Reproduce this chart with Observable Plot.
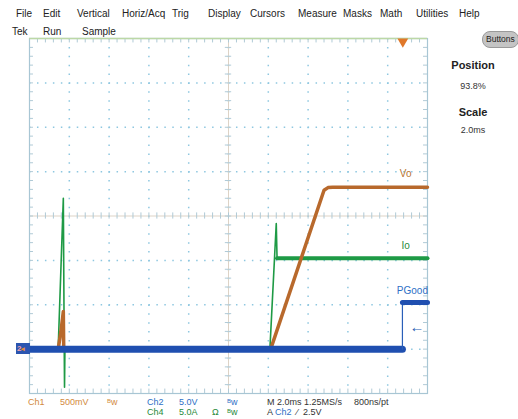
<!DOCTYPE html>
<html>
<head>
<meta charset="utf-8">
<script src="https://cdn.jsdelivr.net/npm/d3@7"></script>
<script src="https://cdn.jsdelivr.net/npm/@observablehq/plot@0.6"></script>
<style>
  body { margin: 0; background: #fff; }
  #wrap { position: relative; width: 518px; height: 419px; overflow: hidden; font-family: "Liberation Sans", Arial, sans-serif; }
  #wrap svg { position: absolute; left: 0; top: 0; }
  .t { position: absolute; white-space: nowrap; line-height: 11px; }
  .m { font-size: 10px; color: #222; }
  .b { font-size: 9px; }
  .or { color: #d28a3e; } .bl { color: #2e6fc6; } .gr { color: #1f8a3a; } .dk { color: #333; }
  .sb { font-size: 6px; display: inline-block; transform: translateY(-2px); }
  .c { text-align: center; width: 60px; }
</style>
</head>
<body>
<div id="wrap"></div>
<script>
// ---- data (x in divisions of 2.0 ms, y in divisions from screen centre) ----
const menuItems = ["File","Edit","Vertical","Horiz/Acq","Trig","Display","Cursors","Measure","Masks","Math","Utilities","Help"];
const menuX = [16,43,77,122,172,208,250,298,343,380,416,459];
const statusItems = ["Tek","Run","Sample"];
const statusX = [12,43,82];

const voTime  = [0, 0.72, 0.79, 0.85, 0.86, 6.06, 7.40, 7.50, 7.62, 10];
const voValue = [-3, -3, -2.6, -2.15, -3, -3, 0.58, 0.64, 0.65, 0.65];

const ioSpikeTime  = [0, 0.72, 0.85, 0.87, 0.88, 0.89, 6.04, 6.20, 6.22];
const ioSpikeValue = [-3, -3, 0.40, -2.6, -3.86, -3, -3, -0.17, -0.95];
const ioFlatTime  = [6.22, 10];
const ioFlatValue = [-0.95, -0.95];

const pgTime  = [0, 9.37, 9.37, 10];
const pgValue = [-3, -3, -1.95, -1.95];

const triggerPos = 9.38;    // 93.8 %
const triggerLevel = -2.5;  // 2.5 V on Ch2 (5 V/div, ground at -3)

const labels = [
  {x: 9.45, y: 0.95, text: "Vo", color: "#b8732e"},
  {x: 9.45, y: -0.67, text: "Io", color: "#1f8a3a"},
  {x: 9.62, y: -1.68, text: "PGood", color: "#2e6fc6"}
];

const rows = (t, v) => t.map((d, i) => ({x: d, y: v[i]}));

// grid helpers
const majorX = d3.range(1, 10);
const majorY = d3.range(-3, 4).filter(d => d !== 0);
const minorX = d3.range(0, 10.001, 0.2);
const minorY = d3.range(-4, 4.001, 0.2);

const dotCol = "#8ec7e0";
const tickCol = "#b0cad6";
const plot = Plot.plot({
  width: 518, height: 419,
  marginLeft: 29, marginRight: 91, marginTop: 38, marginBottom: 26,
  x: {domain: [0, 10], axis: null},
  y: {domain: [-4, 4], axis: null},
  style: {background: "transparent", overflow: "visible"},
  marks: [
    Plot.ruleX(majorX, {stroke: dotCol, strokeWidth: 1.5, strokeDasharray: "1.5,7.38"}),
    Plot.ruleY(majorY, {stroke: dotCol, strokeWidth: 1.5, strokeDasharray: "1.5,6.46"}),
    Plot.ruleX([5], {stroke: "#ddd3c6", strokeWidth: 1}),
    Plot.ruleY([0], {stroke: "#ddd3c6", strokeWidth: 1}),
    Plot.ruleX(minorX, {x: d => d, y1: -0.07, y2: 0.07, stroke: tickCol}),
    Plot.ruleY(minorY, {y: d => d, x1: 4.92, x2: 5.08, stroke: tickCol}),
    Plot.ruleX(minorX, {x: d => d, y1: 3.9, y2: 4, stroke: tickCol}),
    Plot.ruleX(minorX, {x: d => d, y1: -4, y2: -3.9, stroke: tickCol}),
    Plot.ruleY(minorY, {y: d => d, x1: 0, x2: 0.1, stroke: tickCol}),
    Plot.ruleY(minorY, {y: d => d, x1: 9.9, x2: 10, stroke: tickCol}),
    Plot.frame({stroke: "#a8c6d4", strokeWidth: 1.2}),
    Plot.ruleY([4], {stroke: "#bcd8a6", strokeWidth: 1.5}),
    // traces
    Plot.line(rows(ioSpikeTime, ioSpikeValue), {x: "x", y: "y", stroke: "#1e9a45", strokeWidth: 1.6}),
    Plot.line(rows(ioFlatTime, ioFlatValue), {x: "x", y: "y", stroke: "#1e9a45", strokeWidth: 4}),
    Plot.line(rows(voTime, voValue), {x: "x", y: "y", stroke: "#b8692c", strokeWidth: 3.5, strokeLinejoin: "round"}),
    Plot.line(rows(pgTime, pgValue).slice(0, 2), {x: "x", y: "y", stroke: "#1f4fb0", strokeWidth: 7}),
    Plot.line(rows(pgTime, pgValue).slice(1), {x: "x", y: "y", stroke: "#2a5fb8", strokeWidth: 1.2}),
    Plot.line(rows(pgTime, pgValue).slice(2), {x: "x", y: "y", stroke: "#1f4fb0", strokeWidth: 5}),
    // markers
    Plot.dot([triggerPos], {x: d => d, y: 4, symbol: "triangle", rotate: 180, r: 4, fill: "#e0782a", dy: 3}),
    Plot.text([triggerLevel], {x: 10, y: d => d, text: () => "←", textAnchor: "end", dx: -3, fill: "#2e5fb6", fontSize: 15, fontWeight: "bold"}),
    Plot.text(labels, {x: "x", y: "y", text: "text", fill: "color", fontSize: 10, fontFamily: "Liberation Sans, Arial, sans-serif"})
  ]
});
const wrap = document.getElementById("wrap");
wrap.appendChild(plot);

function add(html, cls, left, top, extra) {
  const d = document.createElement("div");
  d.className = "t " + cls;
  d.style.left = left + "px";
  d.style.top = top + "px";
  if (extra) Object.assign(d.style, extra);
  d.innerHTML = html;
  wrap.appendChild(d);
  return d;
}
menuItems.forEach((m, i) => add(m, "m", menuX[i], 8));
statusItems.forEach((m, i) => add(m, "m", statusX[i], 26));

// ground marker
add("<span style='color:#f2a0b0'>2</span><span style='color:#e08a3a;font-size:7px'>◂</span>", "", 16, 343,
  {background: "#2a55b0", width: "13px", height: "11px", fontSize: "8px", lineHeight: "11px", paddingLeft: "1px", fontWeight: "bold"});

// right panel
add("Buttons", "", 482, 31, {background: "#c4c4c4", border: "1px solid #9a9a9a", borderRadius: "8px", fontSize: "8.5px", padding: "2px 3px", color: "#222"});
add("Position", "c", 443, 60, {fontSize: "11px", fontWeight: "bold", color: "#222"});
add("93.8%", "c", 443, 81, {fontSize: "9px", color: "#333"});
add("Scale", "c", 443, 107, {fontSize: "11px", fontWeight: "bold", color: "#222"});
add("2.0ms", "c", 443, 125, {fontSize: "9px", color: "#333"});

// bottom status
add("Ch1", "b or", 28, 397);
add("500mV", "b or", 60, 397);
add("<span class='sb'>B</span>w", "b or", 107, 397);
add("Ch2", "b bl", 147, 397);
add("5.0V", "b bl", 179, 397);
add("<span class='sb'>B</span>w", "b bl", 227, 397);
add("Ch4", "b gr", 147, 407);
add("5.0A", "b gr", 179, 407);
add("Ω", "b gr", 212, 407);
add("<span class='sb'>B</span>w", "b gr", 227, 407);
add("M 2.0ms 1.25MS/s", "b dk", 267, 397);
add("800ns/pt", "b dk", 354, 397);
add("A <span class='bl'>Ch2</span> &nbsp;⁄ &nbsp;2.5V", "b dk", 267, 407);
</script>
</body>
</html>
